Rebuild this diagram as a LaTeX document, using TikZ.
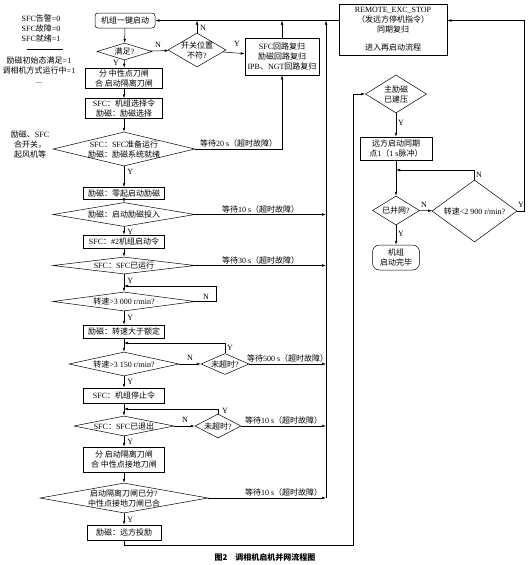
\documentclass[tikz,border=0pt]{standalone}
\usepackage{fontspec}
\setmainfont{Liberation Serif}
\newfontfamily\cjkf{Noto Sans CJK SC}
\newfontfamily\latf{Liberation Serif}
\usetikzlibrary{shapes.geometric,arrows.meta,calc}
% automatic switching between Latin and CJK fonts
\chardef\cjkcls=100
\newcount\cjkcnt
\cjkcnt="4E00
\loop
  \XeTeXcharclass\cjkcnt=\cjkcls\relax
  \ifnum\cjkcnt<"9FFF\relax
  \advance\cjkcnt by 1\relax
\repeat
\XeTeXcharclass"3001=\cjkcls
\XeTeXcharclass"3000=\cjkcls
\XeTeXcharclass"FF08=\cjkcls
\XeTeXcharclass"FF09=\cjkcls
\XeTeXcharclass"FF0C=\cjkcls
\XeTeXcharclass"FF1A=\cjkcls
\XeTeXcharclass"FF1F=\cjkcls
\XeTeXinterchartoks 0 \cjkcls = {\cjkf}
\XeTeXinterchartoks 4095 \cjkcls = {\cjkf}
\XeTeXinterchartoks \cjkcls 0 = {\latf}
\XeTeXinterchartoks 4095 0 = {\latf}
\XeTeXinterchartokenstate=1
\begin{document}
\begin{tikzpicture}[x=1pt,y=-1pt,
  every node/.style={font=\fontsize{8}{10}\selectfont, inner sep=1pt},
  box/.style 2 args={draw, rectangle, minimum width=#1, minimum height=#2, align=center},
  dia/.style 2 args={draw, diamond, minimum width=#1, minimum height=#2, inner sep=0pt},
  lbl/.style={align=center, inner sep=0pt},
  yn/.style={inner sep=0pt},
  arr/.style={-{Latex[length=4pt,width=2.6pt]}},
  every path/.style={line width=0.5pt}]
\useasboundingbox (0,0) rectangle (532,565);

% ---- left notes
\node[lbl] (ann1) at (41,28) {SFC告警=0\\SFC故障=0\\SFC就绪=1};
\draw (27,49.5) -- (63,49.5);
\node[lbl] (ann2) at (39,70) {励磁初始态满足=1\\调相机方式运行中=1\\...};
\node[lbl] (ann3) at (30,144) {励磁、SFC\\合开关，\\起风机等};

% ---- main column
\node[box={60}{15}, rounded corners=3pt] (n1) at (125,20.5) {机组一键启动};
\node[dia={55}{17}, label={[lbl]center:{满足?}}] (d1) at (124.5,51.5) {};
\node[dia={58}{34}, label={[lbl]center:{开关位置\\不符?}}] (d2) at (197,50) {};
\node[box={74}{37}] (br) at (282,56.5) {SFC回路复归\\励磁回路复归\\IPB、NGT回路复归};
\node[box={77}{20}] (b2) at (124,78) {分 中性点刀闸\\合 启动隔离刀闸};
\node[box={77}{20}] (b3) at (124,108.5) {SFC：机组选择令\\励磁：励磁选择};
\node[dia={142}{34}, label={[lbl]center:{SFC：SFC准备运行\\励磁：励磁系统就绪}}] (d3) at (124,149) {};
\node[box={81}{12}] (b4) at (124,193.5) {励磁：零起启动励磁};
\node[dia={142}{24}, label={[lbl]center:{励磁：启动励磁投入}}] (d4) at (124,214.5) {};
\node[box={81}{13}] (b5) at (124,241.5) {SFC：\#2机组启动令};
\node[dia={142}{17}, label={[lbl]center:{SFC：SFC已运行}}] (d5) at (124,265.5) {};
\node[dia={142}{19}, label={[lbl]center:{转速>3 000 r/min?}}] (d6) at (124,301.5) {};
\node[box={81}{13}] (b6) at (124,331.5) {励磁：转速大于额定};
\node[dia={110}{24}, label={[lbl]center:{转速>3 150 r/min?}}] (d7) at (124,364) {};
\node[dia={48}{21}, label={[lbl]center:{未超时?}}] (d8) at (225,364) {};
\node[box={81}{15}] (b7) at (124,395.5) {SFC：机组停止令};
\node[dia={100}{20}, label={[lbl]center:{SFC：SFC已退出}}] (d9) at (124,426) {};
\node[dia={46}{24}, label={[lbl]center:{未超时?}}] (d10) at (218,426) {};
\node[box={81}{25}] (b8) at (124,459.5) {分 启动隔离刀闸\\合 中性点接地刀闸};
\node[dia={168}{30}, label={[lbl]center:{启动隔离刀闸已分?\\中性点接地刀闸已合}}] (d11) at (124,498) {};
\node[box={74}{15}] (b9) at (124,532.5) {励磁：远方投励};

% ---- right column
\node[box={108}{51}] (R1) at (393,29.5) {REMOTE\_EXC\_STOP\\（发远方停机指令）\\同期复归\\[8pt]进入再启动流程};
\node[dia={61}{38}, label={[lbl]center:{主励磁\\已建压}}] (dm) at (396,94) {};
\node[box={72}{23}] (R2) at (396,148.5) {远方启动同期\\点1（1 s脉冲）};
\node[dia={47}{29}, label={[lbl]center:{已并网?}}] (R3) at (396,210.5) {};
\node[dia={85}{62}, label={[lbl]center:{转速<2 900 r/min?}}] (R4) at (474.5,211) {};
\node[box={47}{25}, rounded corners=7pt] (R5) at (396,257.5) {机组\\启动完毕};

\coordinate (bus) at (326,0);
\coordinate (lx) at (353,0);
\coordinate (rx) at (524,0);

% ---- top connections
\draw[arr] (n1.east -| R1.west) -- (n1.east);
\draw[arr] (n1) -- (d1);
\draw[arr] (d1) -- (d2);
\node[yn] at (158,45) {N};
\draw[arr] (d2) -- (br);
\node[yn] at (237,44) {Y};
\draw[arr] (d2.north) -- (d2.north |- n1.east);
\node[yn] at (203,28) {N};
\draw[arr] (br.north) -- (br.north |- n1.east);
\draw[arr] (d1) -- (b2);
\node[yn] at (116,63) {Y};
\draw[arr] (b2) -- (b3);
\draw[arr] (b3) -- (d3);
\draw[arr] (d3) -- (b4);
\node[yn, anchor=west] at (127,172) {Y};
\draw[arr] (d3.east) -- node[above, yn, yshift=1pt] {等待20 s（超时故障）} (d3.east -| br.south) -- (br.south);
\draw[arr] (b4) -- (d4);
\draw[arr] (d4) -- (b5);
\node[yn, anchor=west] at (127,231.5) {Y};
\draw[arr] (d4.east) -- node[above, yn, yshift=1pt] {等待10 s（超时故障）} (d4.east -| bus);
\draw[arr] (b5) -- (d5);
\draw[arr] (d5) -- (d6);
\node[yn, anchor=west] at (127,280.5) {Y};
\draw[arr] (d5.east) -- node[above, yn, yshift=1pt] {等待30 s（超时故障）} (d5.east -| bus);
\draw[arr] (d6.east) -- (216,301.5) -- (216,286) -- (124,286);
\node[yn] at (206,297) {N};
\draw[arr] (d6) -- (b6);
\node[yn, anchor=west] at (127,318) {Y};
\draw[arr] (b6) -- (d7);
\draw[arr] (d7) -- (d8);
\node[yn] at (190,358) {N};
\draw[arr] (d8.north) |- (124,343);
\node[yn] at (230,348) {Y};
\draw[arr] (d8.east) -- node[above, yn, yshift=1pt] {等待500 s（超时故障）} (d8.east -| bus);
\draw[arr] (d7) -- (b7);
\node[yn, anchor=west] at (127,382) {Y};
\draw[arr] (b7) -- (d9);
\draw[arr] (d9) -- (d10);
\node[yn] at (185,420) {N};
\draw[arr] (d10.north) |- (124,409);
\node[yn] at (225,411) {Y};
\draw[arr] (d10.east) -- node[above, yn, yshift=1pt] {等待10 s（超时故障）} (d10.east -| bus);
\draw[arr] (d9) -- (b8);
\node[yn, anchor=west] at (127,442) {Y};
\draw[arr] (b8) -- (d11);
\draw[arr] (d11.east) -- node[above, yn, yshift=1pt, pos=0.64] {等待10 s（超时故障）} (d11.east -| bus);
\draw[arr] (d11.east -| bus) -- (bus |- n1.east);
\draw[arr] (d11) -- (b9);
\node[yn, anchor=west] at (127,520) {Y};
\draw[arr] (b9.south) -- (124,545) -| (lx |- dm.west) -- (dm.west);

% ---- right connections
\draw[arr] (dm) -- (R2);
\node[yn] at (401,123) {Y};
\draw[arr] (R2) -- (R3);
\draw[arr] (R3) -- (R4);
\node[yn] at (424,205) {N};
\draw[arr] (R4.north) |- (396,170);
\node[yn] at (479,175) {N};
\draw[arr] (R4.east) -| (rx |- n1.east) -- (R1.east |- n1.east);
\node[yn] at (521,205) {Y};
\draw[arr] (R3) -- (R5);
\node[yn] at (401,234) {Y};

% ---- caption
\node[inner sep=0pt, font=\fontsize{8}{10}\selectfont\cjkf\bfseries] (cap) at (265,557) {\XeTeXinterchartokenstate=0 图2\quad 调相机启机并网流程图};
\end{tikzpicture}
\end{document}
